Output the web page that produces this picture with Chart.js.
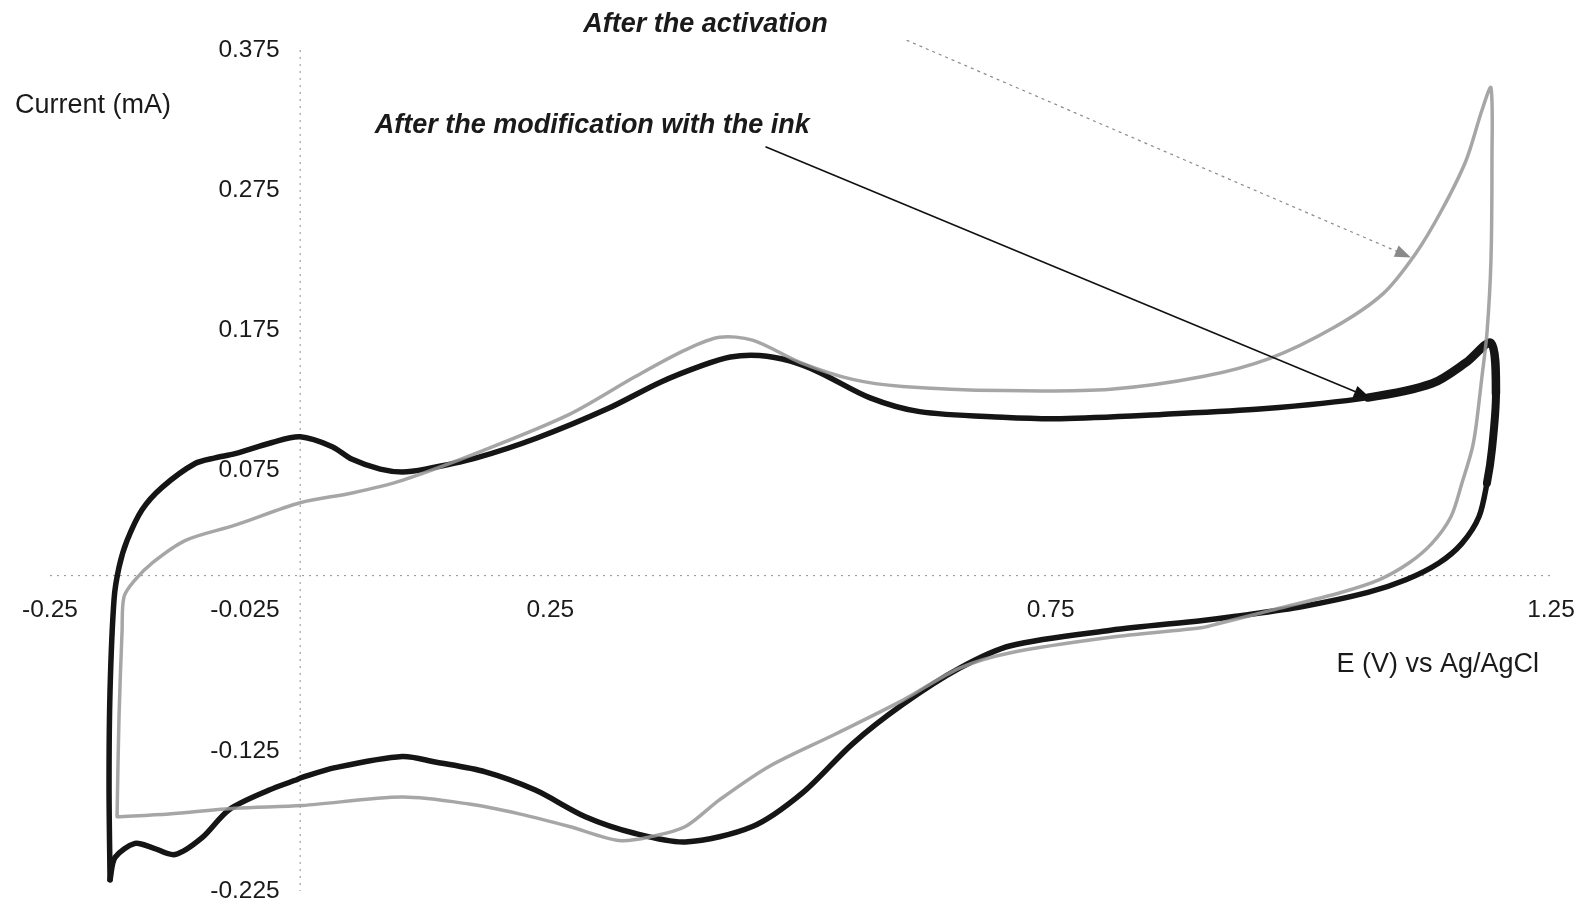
<!DOCTYPE html>
<html>
<head>
<meta charset="utf-8">
<script src="https://cdn.jsdelivr.net/npm/chart.js@4.4.1/dist/chart.umd.min.js"></script>
<style>
html, body { margin: 0; padding: 0; background: #fff; }
</style>
</head>
<body>
<canvas id="cvChart" width="1580" height="905"></canvas>
<script>
// after the modification with the ink (black, thick)
const inkE = [-0.190, -0.191, -0.190, -0.186, -0.181, -0.173, -0.158, -0.138, -0.105, -0.085,
    -0.065, -0.028, 0.000, 0.032, 0.052, 0.080, 0.102, 0.125, 0.176, 0.236,
    0.307, 0.360, 0.402, 0.430, 0.459, 0.490, 0.519, 0.569, 0.619, 0.702,
    0.760, 0.861, 0.962, 1.067, 1.131, 1.165, 1.190, 1.195, 1.191, 1.186,
    1.178, 1.161, 1.138, 1.105, 1.067, 1.002, 0.935, 0.902, 0.810, 0.710,
    0.659, 0.602, 0.552, 0.502, 0.452, 0.385, 0.335, 0.285, 0.235, 0.185,
    0.135, 0.102, 0.035, 0.002, -0.005, -0.031, -0.071, -0.098, -0.125, -0.148,
    -0.165, -0.185, -0.190];
const inkI = [-0.217, -0.150, -0.082, -0.017, 0.006, 0.025, 0.047, 0.063, 0.080, 0.084,
    0.087, 0.095, 0.099, 0.092, 0.083, 0.076, 0.074, 0.076, 0.084, 0.098,
    0.119, 0.138, 0.150, 0.156, 0.157, 0.153, 0.145, 0.127, 0.117, 0.113,
    0.112, 0.115, 0.119, 0.127, 0.137, 0.152, 0.166, 0.130, 0.090, 0.066,
    0.042, 0.023, 0.009, -0.003, -0.012, -0.022, -0.029, -0.032, -0.039, -0.050,
    -0.066, -0.092, -0.120, -0.155, -0.179, -0.190, -0.184, -0.172, -0.153, -0.140,
    -0.133, -0.129, -0.137, -0.144, -0.146, -0.153, -0.167, -0.187, -0.199, -0.194,
    -0.191, -0.201, -0.217];

// after the activation (grey)
const actE = [-0.183, -0.181, -0.178, -0.176, -0.165, -0.148, -0.115, -0.065, 0.000, 0.052,
    0.102, 0.182, 0.269, 0.335, 0.385, 0.419, 0.452,
    0.500, 0.552, 0.602, 0.702, 0.810, 0.902, 0.969, 1.033, 1.082, 1.115,
    1.141, 1.165, 1.181, 1.190, 1.191, 1.190, 1.186, 1.181, 1.175, 1.171,
    1.161, 1.150, 1.131, 1.108, 1.078, 1.040, 0.969, 0.919, 0.902, 0.810,
    0.710, 0.659, 0.602, 0.535, 0.469, 0.419, 0.385, 0.352, 0.319, 0.269,
    0.219, 0.169, 0.102, 0.002, -0.065, -0.131, -0.183];
const actI = [-0.172, -0.100, -0.040, -0.015, -0.003, 0.009, 0.025, 0.036, 0.052, 0.059,
    0.068, 0.089, 0.115, 0.142, 0.161, 0.170, 0.168,
    0.152, 0.140, 0.135, 0.132, 0.133, 0.142, 0.155, 0.177, 0.201, 0.230,
    0.261, 0.296, 0.332, 0.348, 0.296, 0.225, 0.173, 0.142, 0.106, 0.090,
    0.066, 0.042, 0.023, 0.009, -0.003, -0.012, -0.025, -0.034, -0.037, -0.044,
    -0.055, -0.066, -0.089, -0.113, -0.136, -0.160, -0.179, -0.186, -0.189, -0.179,
    -0.170, -0.163, -0.158, -0.164, -0.166, -0.170, -0.172];

// axes
const eRange = [-0.25, 1.25];
const iRange = [-0.225, 0.375];
const eStep = 0.5;
const iStep = 0.1;

function pairs(xs, ys) {
    return xs.map(function(v, i) { return {x: v, y: ys[i]}; });
}

const fontFam = '"Liberation Sans", Arial, sans-serif';

function drawArrow(ctx, x0, y0, x1, y1, color, width, dash) {
    const ang = Math.atan2(y1 - y0, x1 - x0);
    const len = 16, half = 6;
    ctx.save();
    ctx.strokeStyle = color;
    ctx.fillStyle = color;
    ctx.lineWidth = width;
    ctx.setLineDash(dash);
    ctx.beginPath();
    ctx.moveTo(x0, y0);
    ctx.lineTo(x1 - Math.cos(ang) * len * 0.6, y1 - Math.sin(ang) * len * 0.6);
    ctx.stroke();
    ctx.setLineDash([]);
    ctx.beginPath();
    ctx.moveTo(x1, y1);
    ctx.lineTo(x1 - Math.cos(ang) * len - Math.sin(ang) * half, y1 - Math.sin(ang) * len + Math.cos(ang) * half);
    ctx.lineTo(x1 - Math.cos(ang) * len + Math.sin(ang) * half, y1 - Math.sin(ang) * len - Math.cos(ang) * half);
    ctx.closePath();
    ctx.fill();
    ctx.restore();
}

// dotted axes crossing at zero
const crossAxes = {
    id: 'crossAxes',
    beforeDatasetsDraw(chart) {
        const ctx = chart.ctx;
        const sx = chart.scales.x, sy = chart.scales.y;
        ctx.save();
        ctx.strokeStyle = '#8f8f8f';
        ctx.lineWidth = 1;
        ctx.setLineDash([2, 5]);
        ctx.beginPath();
        ctx.moveTo(sx.getPixelForValue(eRange[0]), sy.getPixelForValue(0));
        ctx.lineTo(sx.getPixelForValue(eRange[1]), sy.getPixelForValue(0));
        ctx.moveTo(sx.getPixelForValue(0), sy.getPixelForValue(iRange[1]));
        ctx.lineTo(sx.getPixelForValue(0), sy.getPixelForValue(iRange[0]));
        ctx.stroke();
        ctx.restore();
    }
};

// texts and arrows, placed in data units
const notesPlugin = {
    id: 'notes',
    afterDraw(chart) {
        const ctx = chart.ctx;
        const sx = chart.scales.x, sy = chart.scales.y;
        const px = v => sx.getPixelForValue(v);
        const py = v => sy.getPixelForValue(v);

        ctx.save();
        ctx.fillStyle = '#1a1a1a';
        ctx.textBaseline = 'middle';
        ctx.font = '27px ' + fontFam;
        ctx.textAlign = 'left';
        ctx.fillText('Current (mA)', px(-0.285), py(0.3356));
        ctx.textAlign = 'right';
        ctx.fillText('E (V) vs Ag/AgCl', px(1.238), py(-0.0635));

        ctx.font = 'italic bold 27px ' + fontFam;
        ctx.textAlign = 'center';
        ctx.fillText('After the activation', px(0.405), py(0.393));
        ctx.fillText('After the modification with the ink', px(0.292), py(0.321));

        drawArrow(ctx, px(0.606), py(0.382), px(1.110), py(0.227), '#8a8a8a', 1.2, [3, 4]);
        drawArrow(ctx, px(0.465), py(0.306), px(1.069), py(0.127), '#111', 1.6, []);
        ctx.restore();
    }
};

// thicker trace where repeated cycles overlap (upper right and the return edge)
function inkWidth(c) {
    const a = c.p0.parsed, b = c.p1.parsed;
    if (a.x > 0.98 && a.y > 0.1 && b.y > 0.1) return 8.5;
    if (a.x > 1.17 && b.x > 1.17 && b.y > 0.05) return 8;
    return undefined;
}

const ctx = document.getElementById('cvChart').getContext('2d');
const cvChart = new Chart(ctx, {
    type: 'scatter',
    data: {
        datasets: [{
            label: 'After the activation',
            data: pairs(actE, actI),
            showLine: true,
            borderColor: 'rgba(150,150,150,0.85)',
            borderWidth: 3.5,
            pointRadius: 0,
            tension: 0.3,
            borderJoinStyle: 'round',
            borderCapStyle: 'round'
        }, {
            label: 'After the modification with the ink',
            data: pairs(inkE, inkI),
            showLine: true,
            borderColor: '#151515',
            borderWidth: 5.5,
            pointRadius: 0,
            tension: 0.3,
            borderJoinStyle: 'round',
            borderCapStyle: 'round',
            segment: { borderWidth: inkWidth }
        }]
    },
    options: {
        responsive: false,
        animation: false,
        layout: { padding: { left: 50, right: 29, top: 50, bottom: 14 } },
        plugins: {
            legend: { display: false },
            tooltip: { enabled: false }
        },
        scales: {
            x: {
                type: 'linear',
                min: eRange[0],
                max: eRange[1],
                position: { y: 0 },
                afterFit: s => { s.height = 0; s.paddingLeft = 0; s.paddingRight = 0; s.paddingTop = 0; s.paddingBottom = 0; },
                grid: { display: false },
                border: { display: false },
                ticks: {
                    stepSize: eStep,
                    padding: 12,
                    color: '#1a1a1a',
                    font: { family: fontFam, size: 24.5 },
                    callback: v => v.toFixed(2)
                }
            },
            y: {
                type: 'linear',
                min: iRange[0],
                max: iRange[1],
                position: { x: 0 },
                afterFit: s => { s.width = 0; s.paddingLeft = 0; s.paddingRight = 0; s.paddingTop = 0; s.paddingBottom = 0; },
                grid: { display: false },
                border: { display: false },
                ticks: {
                    stepSize: iStep,
                    color: '#1a1a1a',
                    font: { family: fontFam, size: 24.5 },
                    callback: v => v.toFixed(3) + '   '
                }
            }
        }
    },
    plugins: [crossAxes, notesPlugin]
});
</script>
</body>
</html>
